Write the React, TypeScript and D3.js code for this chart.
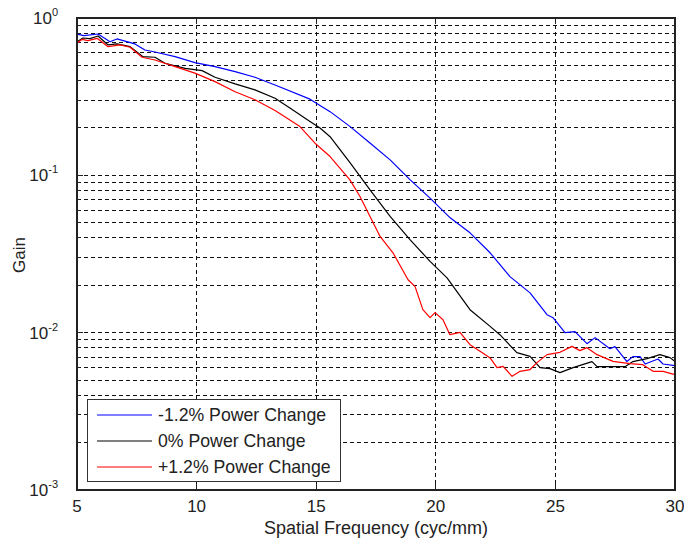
import React from "react";
import * as d3 from "d3";

// Spatial frequency (cyc/mm) and gain samples for each exposure setting
const bluePts: [number, number][] = [
  [5.0, 0.79], [5.29, 0.772], [5.88, 0.791], [6.38, 0.707], [6.67, 0.736], [7.42, 0.684],
  [7.84, 0.626], [8.26, 0.608], [9.1, 0.568], [9.93, 0.52], [10.77, 0.491], [11.61, 0.456],
  [12.44, 0.42], [13.28, 0.375], [14.74, 0.305], [15.58, 0.254], [16.42, 0.204], [17.26, 0.16],
  [18.09, 0.1254], [18.93, 0.0936], [19.76, 0.0716], [20.6, 0.0537], [21.43, 0.0431],
  [22.27, 0.0322], [23.1, 0.0227], [23.94, 0.0179], [24.65, 0.013], [24.9, 0.01245],
  [25.4, 0.01], [25.82, 0.01015], [26.32, 0.00851], [26.66, 0.0093], [27.28, 0.00791],
  [27.49, 0.00815], [27.99, 0.00655], [28.24, 0.00704], [28.54, 0.00704], [28.75, 0.00632],
  [29.29, 0.0068], [29.5, 0.00632], [30.0, 0.00617],
];

const blackPts: [number, number][] = [
  [5.0, 0.707], [5.25, 0.746], [5.54, 0.739], [5.88, 0.769], [6.3, 0.674], [6.67, 0.684],
  [7.22, 0.657], [7.76, 0.568], [8.26, 0.563], [8.68, 0.516], [9.52, 0.479], [10.23, 0.463],
  [10.77, 0.42], [11.61, 0.381], [12.44, 0.349], [13.28, 0.309], [13.9, 0.268], [14.74, 0.22],
  [15.16, 0.2], [15.58, 0.176], [16.42, 0.12], [17.25, 0.0809], [18.09, 0.0548], [18.92, 0.039],
  [19.76, 0.0284], [20.47, 0.0223], [21.43, 0.014], [22.27, 0.01096], [22.68, 0.00971],
  [23.39, 0.00746], [23.94, 0.00707], [24.36, 0.006], [24.77, 0.00591], [25.19, 0.00557],
  [25.74, 0.006], [26.53, 0.00655], [26.74, 0.00608], [27.41, 0.00608], [27.91, 0.00608],
  [28.24, 0.00655], [28.83, 0.00684], [29.37, 0.00725], [29.79, 0.00694], [30.0, 0.00655],
];

const redPts: [number, number][] = [
  [5.0, 0.691], [5.21, 0.732], [5.46, 0.718], [5.84, 0.743], [6.3, 0.657], [6.8, 0.674],
  [7.22, 0.652], [7.72, 0.563], [8.26, 0.541], [9.1, 0.491], [9.93, 0.446], [10.77, 0.394],
  [11.61, 0.34], [12.44, 0.302], [13.28, 0.258], [14.32, 0.204], [14.95, 0.16], [15.58, 0.1316],
  [16.41, 0.0936], [16.83, 0.0733], [17.25, 0.0548], [17.67, 0.0409], [18.21, 0.0322],
  [18.84, 0.0217], [19.13, 0.0197], [19.46, 0.014], [19.76, 0.01245], [19.97, 0.0134],
  [20.3, 0.01209], [20.59, 0.00971], [21.01, 0.01004], [21.43, 0.00839], [21.85, 0.00761],
  [22.27, 0.00691], [22.56, 0.006], [22.81, 0.00611], [23.19, 0.00528], [23.52, 0.00568],
  [23.94, 0.00583], [24.23, 0.00645], [24.65, 0.00725], [25.19, 0.0075], [25.69, 0.00818],
  [26.03, 0.00769], [26.32, 0.00803], [26.74, 0.00725], [27.41, 0.00657], [28.12, 0.00636],
  [28.66, 0.00626], [29.08, 0.00568], [29.5, 0.00568], [30.0, 0.00541],
];

const seriesNames = ["-1.2% Power Change", "0% Power Change", "+1.2% Power Change"];
const seriesColors = ["#0000ff", "#000000", "#ff0000"];
const xTicks = [5, 10, 15, 20, 25, 30];
const yExponents = [0, -1, -2, -3];

const W = 684;
const H = 543;
const M = { left: 77, right: 675, top: 18, bottom: 490 };
const FONT = "'Liberation Sans', Arial, sans-serif";

export default function App() {
  const x = d3.scaleLinear().domain([5, 30]).range([M.left, M.right]);
  const y = d3.scaleLog().domain([1e-3, 1]).range([M.bottom, M.top]);
  const line = d3
    .line<[number, number]>()
    .x((d) => x(d[0]))
    .y((d) => y(d[1]));

  // minor + major decade grid values
  const gridY: number[] = [];
  for (let e = -3; e < 0; e++) {
    for (let k = 1; k <= 9; k++) {
      const v = k * Math.pow(10, e);
      if (v > 1e-3) gridY.push(v);
    }
  }

  const series = [bluePts, blackPts, redPts];
  const dash = "4,3";
  const gridColor = "#111";

  const legend = { x0: 87, y0: 399, x1: 340, y1: 481 };
  const rowY = [415, 441, 467];

  return (
    <svg
      width={W}
      height={H}
      style={{ position: "absolute", left: 0, top: 0, background: "#fff" }}
      fontFamily={FONT}
    >
      <rect x={0} y={0} width={W} height={H} fill="#fff" />
      {/* grid */}
      <g stroke={gridColor} strokeWidth={1} strokeDasharray={dash} shapeRendering="crispEdges">
        {xTicks.slice(1, -1).map((t) => (
          <line key={"gx" + t} x1={x(t)} x2={x(t)} y1={M.top} y2={M.bottom} />
        ))}
        {gridY.map((v, i) => (
          <line key={"gy" + i} x1={M.left} x2={M.right} y1={y(v)} y2={y(v)} />
        ))}
      </g>
      {/* ticks */}
      <g stroke="#222" strokeWidth={1} shapeRendering="crispEdges">
        {xTicks.map((t) => (
          <g key={"tx" + t}>
            <line x1={x(t)} x2={x(t)} y1={M.bottom} y2={M.bottom - 6} />
            <line x1={x(t)} x2={x(t)} y1={M.top} y2={M.top + 6} />
          </g>
        ))}
        {gridY.map((v, i) => {
          const major = Math.abs(Math.log10(v) - Math.round(Math.log10(v))) < 1e-9;
          const len = major ? 6 : 3;
          return (
            <g key={"ty" + i}>
              <line x1={M.left} x2={M.left + len} y1={y(v)} y2={y(v)} />
              <line x1={M.right} x2={M.right - len} y1={y(v)} y2={y(v)} />
            </g>
          );
        })}
      </g>
      {/* curves */}
      <g fill="none" strokeWidth={1.2} strokeLinejoin="round">
        {series.map((s, i) => (
          <path key={"s" + i} d={line(s) || ""} stroke={seriesColors[i]} />
        ))}
      </g>
      {/* axes box */}
      <rect
        x={M.left}
        y={M.top}
        width={M.right - M.left}
        height={M.bottom - M.top}
        fill="none"
        stroke="#222"
        strokeWidth={1.2}
        shapeRendering="crispEdges"
      />
      {/* x tick labels */}
      <g fontSize={17} fill="#222" textAnchor="middle">
        {xTicks.map((t) => (
          <text key={"lx" + t} x={x(t)} y={511.5}>
            {t}
          </text>
        ))}
      </g>
      {/* y tick labels */}
      <g fill="#222">
        {yExponents.map((e) => (
          <text key={"ly" + e} x={58} y={y(Math.pow(10, e)) + 6} fontSize={17} textAnchor="end">
            10
            <tspan dy={-8} fontSize={11}>
              {e}
            </tspan>
          </text>
        ))}
      </g>
      {/* axis titles */}
      <text x={376} y={534} fontSize={18} fill="#222" textAnchor="middle">
        Spatial Frequency (cyc/mm)
      </text>
      <text
        transform={`translate(25,255) rotate(-90)`}
        fontSize={17}
        fill="#222"
        textAnchor="middle"
      >
        Gain
      </text>
      {/* legend */}
      <rect
        x={legend.x0}
        y={legend.y0}
        width={legend.x1 - legend.x0}
        height={legend.y1 - legend.y0}
        fill="#fff"
        stroke="#333"
        strokeWidth={1}
        shapeRendering="crispEdges"
      />
      {seriesNames.map((n, i) => (
        <g key={"lg" + i}>
          <line x1={97} x2={152} y1={rowY[i]} y2={rowY[i]} stroke={seriesColors[i]} strokeWidth={1.2} />
          <text x={158} y={rowY[i] + 6} fontSize={17.7} fill="#222">
            {n}
          </text>
        </g>
      ))}
    </svg>
  );
}
